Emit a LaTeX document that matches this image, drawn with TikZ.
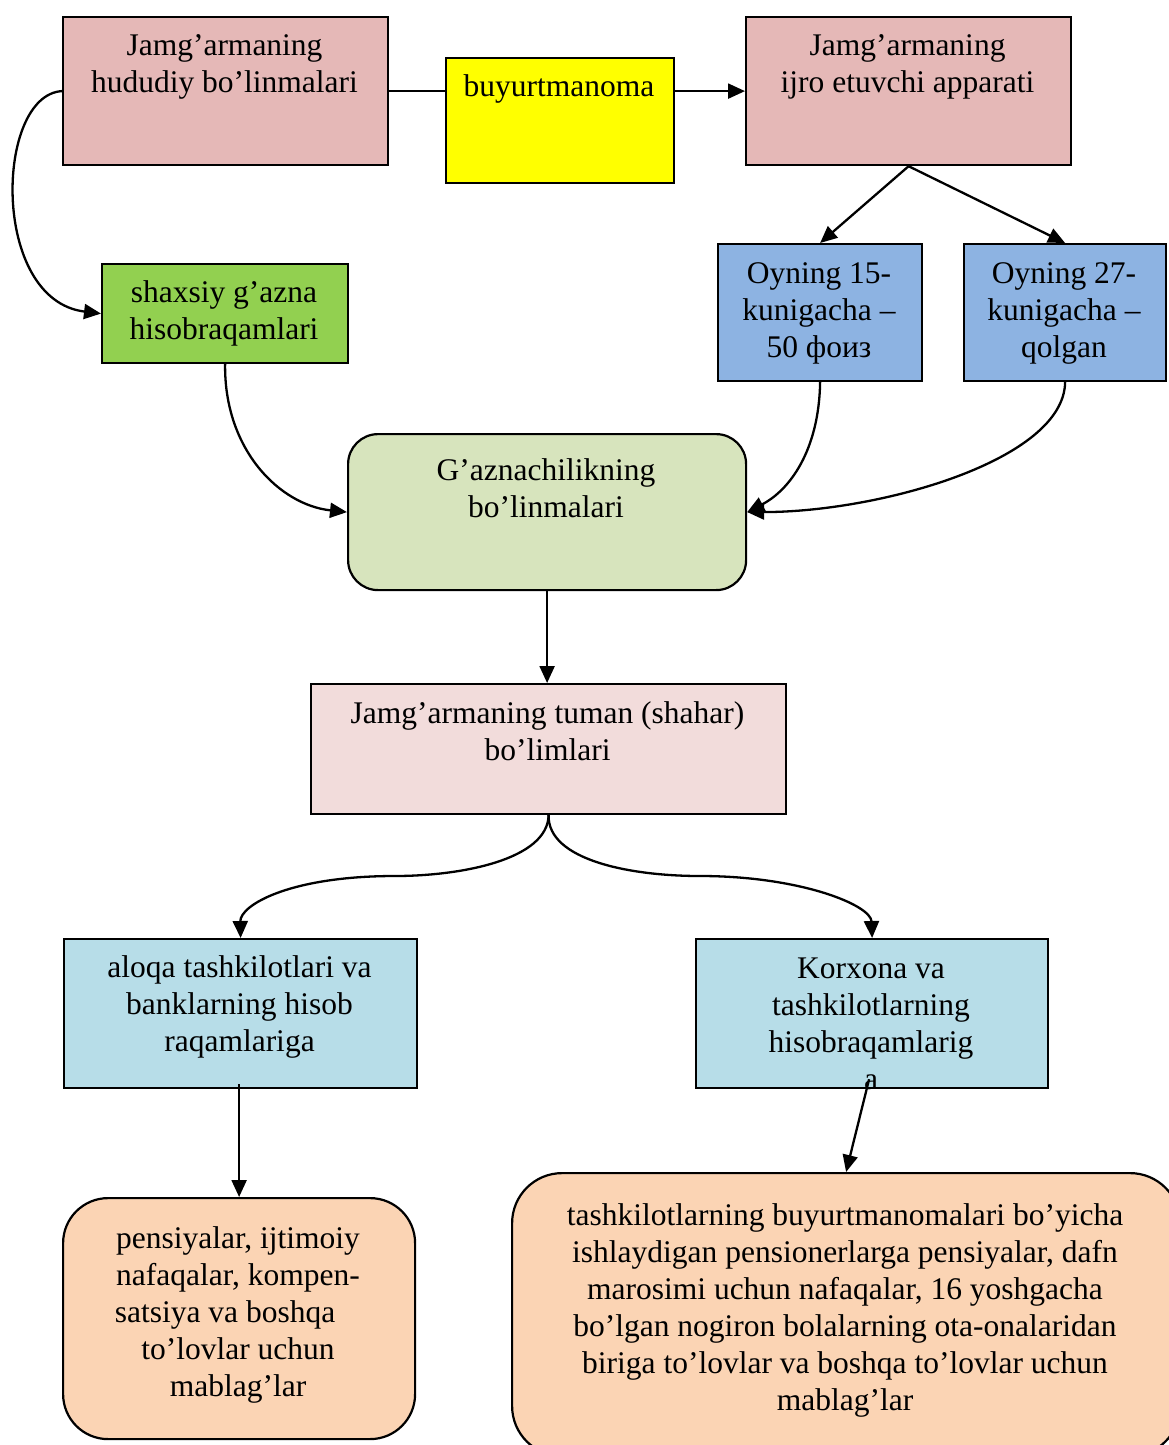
\documentclass[tikz,border=0pt]{standalone}
\usepackage{fontspec}
\setmainfont{Liberation Serif}
\usetikzlibrary{arrows.meta}
\definecolor{cPink}{HTML}{E5B8B7}
\definecolor{cYel}{HTML}{FFFF00}
\definecolor{cGreen}{HTML}{92D050}
\definecolor{cBlue}{HTML}{8DB3E2}
\definecolor{cOlive}{HTML}{D7E4BD}
\definecolor{cRose}{HTML}{F2DCDB}
\definecolor{cCyan}{HTML}{B7DDE8}
\definecolor{cPeach}{HTML}{FBD4B4}
\tikzset{
  boxst/.style={draw=black, line width=2.2pt, inner sep=0pt, anchor=north west},
  txt/.style={anchor=north, inner sep=0pt, align=center,
    font=\fontsize{31.5}{37}\selectfont},
  conn/.style={draw=black, line width=2.3pt},
  arr/.style={conn, -{Triangle[length=17pt,width=15pt]}}
}
\begin{document}
\begin{tikzpicture}[x=1pt,y=-1pt]
\useasboundingbox (0,0) rectangle (1169,1445);
% boxes
\node[boxst, fill=cPink, minimum width=325pt, minimum height=148pt] (A) at (62,16) {};
\node[boxst, fill=cYel, minimum width=228pt, minimum height=125pt] (B) at (445,57) {};
\node[boxst, fill=cPink, minimum width=325pt, minimum height=148pt] (C) at (745,16) {};
\node[boxst, fill=cGreen, minimum width=246pt, minimum height=99pt] (D) at (101,263) {};
\node[boxst, fill=cBlue, minimum width=204pt, minimum height=137pt] (E) at (717,243) {};
\node[boxst, fill=cBlue, minimum width=202pt, minimum height=137pt] (F) at (963,243) {};
\node[boxst, fill=cOlive, rounded corners=30pt, minimum width=398pt, minimum height=156pt] (G) at (347,433) {};
\node[boxst, fill=cRose, minimum width=475pt, minimum height=130pt] (H) at (310,683) {};
\node[boxst, fill=cCyan, minimum width=353pt, minimum height=149pt] (I) at (63,938) {};
\node[boxst, fill=cCyan, minimum width=352pt, minimum height=149pt] (J) at (695,938) {};
\node[boxst, fill=cPeach, rounded corners=45pt, minimum width=352pt, minimum height=241pt] (K) at (62,1197) {};
\node[boxst, fill=cPeach, rounded corners=50pt, minimum width=668pt, minimum height=283pt] (L) at (511,1172) {};
% connectors
\draw[conn] (A.east) -- (A.east -| B.west);
\draw[arr] (C.west -| B.east) -- (C.west);
\draw[arr] (A.west) .. controls (-5,95) and (-10,300) .. (D.west);
\draw[arr] (C.south) -- (E.north);
\draw[arr] (C.south) -- (F.north);
\draw[arr] (D.south) .. controls (224,450) and (280,505) .. (G.west);
\draw[arr] (E.south) .. controls (819,450) and (790,490) .. (G.east);
\draw[arr] (F.south) .. controls (1064,460) and (880,512) .. (G.east);
\draw[arr] (G.south) -- (G.south |- H.north);
\draw[arr] (H.south) .. controls (547.5,860) and (460,876) .. (395,876) .. controls (290,876) and (240,905) .. (I.north);
\draw[arr] (H.south) .. controls (547.5,860) and (630,876) .. (700,876) .. controls (800,876) and (871,905) .. (J.north);
\draw[arr] ([xshift=-1.5pt,yshift=5pt]I.south) -- (K.north);
\draw[arr] ([xshift=-3pt,yshift=10pt]J.south) -- (L.north);
% texts
\node[txt] (tA) at (224.5,29) {\strut Jamg’armaning\\ hududiy bo’linmalari};
\node[txt] (tB) at (559,70) {\strut buyurtmanoma};
\node[txt] (tC) at (907.5,29) {\strut Jamg’armaning\\ ijro etuvchi apparati};
\node[txt] (tD) at (224,276) {\strut shaxsiy g’azna\\ hisobraqamlari};
\node[txt] (tE) at (819,257) {\strut Oyning 15-\\ kunigacha –\\ 50 фоиз};
\node[txt] (tF) at (1064,257) {\strut Oyning 27-\\ kunigacha –\\ qolgan};
\node[txt] (tG) at (546,454) {\strut G’aznachilikning\\ bo’linmalari};
\node[txt] (tH) at (547.5,697) {\strut Jamg’armaning tuman (shahar)\\ bo’limlari};
\node[txt] (tI) at (239.5,951) {\strut aloqa tashkilotlari va\\ banklarning hisob\\ raqamlariga};
\node[txt] (tJ) at (871,952) {\strut Korxona va\\ tashkilotlarning\\ hisobraqamlarig\\ a};
\node[txt] (tK) at (238,1222) {\strut pensiyalar, ijtimoiy\\ nafaqalar, kompen-\\ satsiya va boshqa\rule{26pt}{0pt}\\ to’lovlar uchun\\ mablag’lar};
\node[txt] (tL) at (845,1199) {\strut tashkilotlarning buyurtmanomalari bo’yicha\\ ishlaydigan pensionerlarga pensiyalar, dafn\\ marosimi uchun nafaqalar, 16 yoshgacha\\ bo’lgan nogiron bolalarning ota-onalaridan\\ biriga to’lovlar va boshqa to’lovlar uchun\\ mablag’lar};
\end{tikzpicture}
\end{document}
